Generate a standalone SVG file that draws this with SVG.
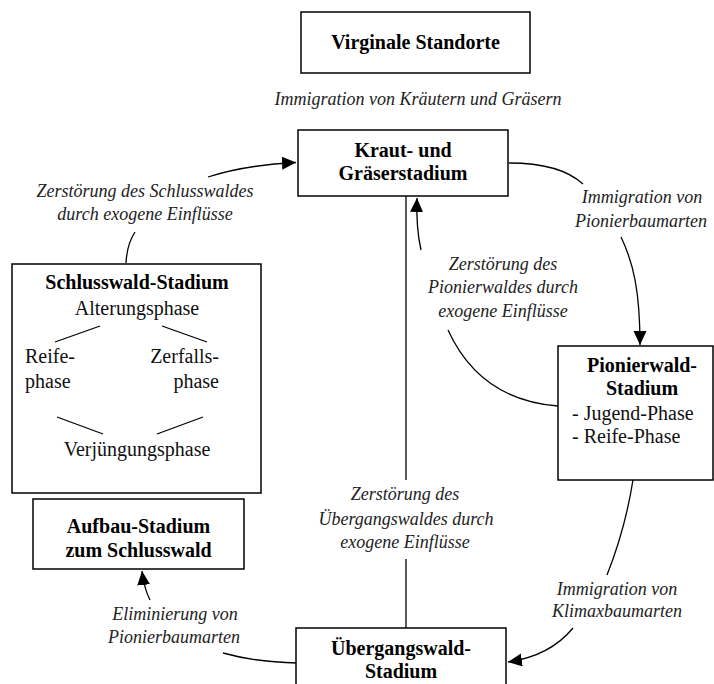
<svg xmlns="http://www.w3.org/2000/svg" width="714" height="684" viewBox="0 0 714 684">
<style>
  .box { fill: #fff; stroke: #000; stroke-width: 1.5; }
  .b { font-family: "Liberation Serif", "DejaVu Serif", serif; font-weight: bold; font-size: 20px; fill: #000; text-anchor: middle; }
  .r { font-family: "Liberation Serif", "DejaVu Serif", serif; font-size: 20px; fill: #111; }
  .i { font-family: "Liberation Serif", "DejaVu Serif", serif; font-style: italic; font-size: 18px; fill: #222; text-anchor: middle; }
  .c { fill: none; stroke: #000; stroke-width: 1.3; }
  .arr { marker-end: url(#ah); }
  .ln { stroke: #000; stroke-width: 1.3; }
</style>
<defs>
  <marker id="ah" markerUnits="userSpaceOnUse" markerWidth="16" markerHeight="14" refX="14" refY="6.5" orient="auto">
    <path d="M0,0 L14,6.5 L0,13 z" fill="#000"/>
  </marker>
</defs>
<rect width="714" height="684" fill="#fff"/>

<g id="connectors">
  <path class="c arr" d="M208,177 Q245,165 296,162.5"/>
  <path class="c" d="M126,263 Q127,244 135,232"/>
  <path class="c" d="M509,163 Q560,163 583,184"/>
  <path class="c arr" d="M621,237 C633,262 640,290 640,345"/>
  <path class="c" d="M558,406 Q480,400 448,330"/>
  <path class="c arr" d="M421,250 Q416,228 417,198"/>
  <path class="c" d="M406,196 L406,480"/>
  <path class="c" d="M406,559 L406,628"/>
  <path class="c" d="M633,480 Q625,530 607,575"/>
  <path class="c arr" d="M573,628 Q550,656 508,662"/>
  <path class="c" d="M297,663 Q255,662 223,653"/>
  <path class="c arr" d="M150,600 Q144,588 142,571"/>
</g>

<g id="virginale">
  <rect class="box" x="301" y="12" width="229" height="61"/>
  <text class="b" x="415.5" y="49">Virginale Standorte</text>
</g>

<g id="label-immigration-kraeuter">
  <text class="i" x="418" y="105">Immigration von Kräutern und Gräsern</text>
</g>

<g id="kraut">
  <rect class="box" x="298" y="130" width="210" height="66"/>
  <text class="b" x="403" y="157">Kraut- und</text>
  <text class="b" x="403" y="180">Gräserstadium</text>
</g>

<g id="label-zerstoerung-schluss">
  <text class="i" x="145" y="197">Zerstörung des Schlusswaldes</text>
  <text class="i" x="145" y="220">durch exogene Einflüsse</text>
</g>

<g id="label-immigration-pionier">
  <text class="i" x="642" y="203">Immigration von</text>
  <text class="i" x="641" y="227">Pionierbaumarten</text>
</g>

<g id="label-zerstoerung-pionier">
  <text class="i" x="503" y="270">Zerstörung des</text>
  <text class="i" x="503" y="293">Pionierwaldes durch</text>
  <text class="i" x="503" y="317">exogene Einflüsse</text>
</g>

<g id="schlusswald">
  <rect class="box" x="12" y="264" width="249" height="229"/>
  <text class="b" x="137" y="289">Schlusswald-Stadium</text>
  <text class="r" x="137" y="315" text-anchor="middle">Alterungsphase</text>
  <line class="ln" x1="55" y1="342" x2="100" y2="326"/>
  <line class="ln" x1="162" y1="326" x2="207" y2="342"/>
  <text class="r" x="25" y="363">Reife-</text>
  <text class="r" x="25" y="388">phase</text>
  <text class="r" x="219" y="363" text-anchor="end">Zerfalls-</text>
  <text class="r" x="219" y="388" text-anchor="end">phase</text>
  <line class="ln" x1="57" y1="417" x2="103" y2="434"/>
  <line class="ln" x1="157" y1="434" x2="203" y2="417"/>
  <text class="r" x="137" y="456" text-anchor="middle">Verjüngungsphase</text>
</g>

<g id="pionierwald">
  <rect class="box" x="558" y="346" width="155" height="134"/>
  <text class="b" x="642" y="372">Pionierwald-</text>
  <text class="b" x="642" y="395">Stadium</text>
  <text class="r" x="572" y="420">- Jugend-Phase</text>
  <text class="r" x="572" y="443">- Reife-Phase</text>
</g>

<g id="label-zerstoerung-uebergang">
  <text class="i" x="405" y="500">Zerstörung des</text>
  <text class="i" x="406" y="525">Übergangswaldes durch</text>
  <text class="i" x="405" y="548">exogene Einflüsse</text>
</g>

<g id="aufbau">
  <rect class="box" x="33" y="499" width="211" height="70"/>
  <text class="b" x="138.5" y="533">Aufbau-Stadium</text>
  <text class="b" x="138.5" y="557">zum Schlusswald</text>
</g>

<g id="label-immigration-klimax">
  <text class="i" x="617" y="595">Immigration von</text>
  <text class="i" x="617" y="617">Klimaxbaumarten</text>
</g>

<g id="label-eliminierung">
  <text class="i" x="175" y="620">Eliminierung von</text>
  <text class="i" x="174" y="643">Pionierbaumarten</text>
</g>

<g id="uebergangswald">
  <rect class="box" x="296" y="628" width="210" height="70"/>
  <text class="b" x="401" y="655">Übergangswald-</text>
  <text class="b" x="401" y="678">Stadium</text>
</g>
</svg>
